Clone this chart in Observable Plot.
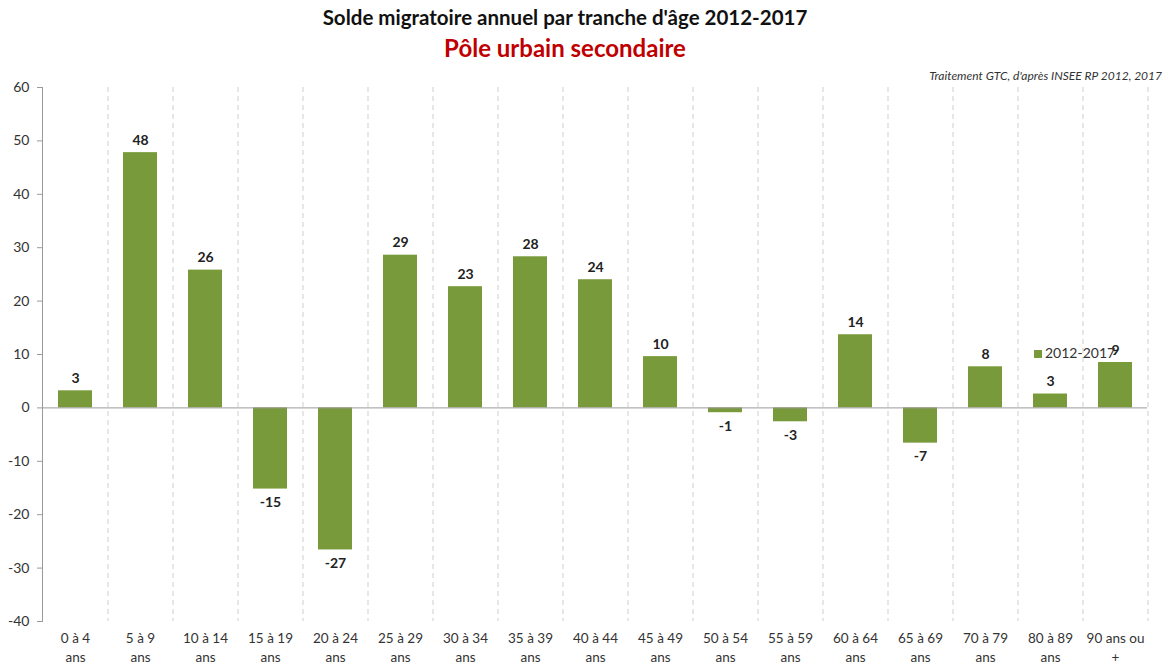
<!DOCTYPE html>
<html><head><meta charset="utf-8">
<script src="https://cdn.jsdelivr.net/npm/d3@7"></script>
<script src="https://cdn.jsdelivr.net/npm/@observablehq/plot@0.6"></script>
<style>
body{margin:0;background:#fff;font-family:Lato,"Open Sans",sans-serif;}
#wrap{position:relative;width:1168px;height:670px;}
#head{position:relative;height:66px;}
#t1{position:absolute;top:5px;left:0;width:1130px;text-align:center;font-weight:bold;font-size:20.5px;color:#111;}
#t2{position:absolute;top:33px;left:0;width:1130px;text-align:center;font-weight:bold;font-size:24px;color:#c00000;}
#cap{position:absolute;top:68px;right:6px;font-style:italic;font-size:12px;color:#333;z-index:2;}
#leg{position:absolute;left:1034px;top:344px;font-size:14px;color:#333;}
#leg span{display:inline-block;width:8px;height:8px;background:#789a3a;margin-right:3px;}
</style></head>
<body><div id="wrap">
<div id="head"><div id="t1"></div><div id="t2"></div><div id="cap"></div></div>
<div id="chart"></div>
<div id="leg"></div>
</div>
<script>
const title = "Solde migratoire annuel par tranche d'âge 2012-2017";
const subtitle = "Pôle urbain secondaire";
const caption = "Traitement GTC, d'après INSEE RP 2012, 2017";
const seriesName = "2012-2017";
const categories = ["0 à 4\nans","5 à 9\nans","10 à 14\nans","15 à 19\nans","20 à 24\nans","25 à 29\nans","30 à 34\nans","35 à 39\nans","40 à 44\nans","45 à 49\nans","50 à 54\nans","55 à 59\nans","60 à 64\nans","65 à 69\nans","70 à 79\nans","80 à 89\nans","90 ans ou\n+"];
const values = [3.2,47.8,25.8,-15.2,-26.6,28.6,22.7,28.3,24.0,9.6,-0.9,-2.6,13.7,-6.6,7.7,2.6,8.5];
const yTicks = [-40,-30,-20,-10,0,10,20,30,40,50,60];

document.getElementById("t1").textContent = title;
document.getElementById("t2").textContent = subtitle;
document.getElementById("cap").textContent = caption;
document.getElementById("leg").innerHTML = "<span></span>" + seriesName;

const data = categories.map((c,i)=>({cat:c, v:values[i]}));
const W = 1168, ML = 42, MR = 21;
const step = (W - ML - MR) / categories.length;
const fmt = v => String(Math.round(v));

const chart = Plot.plot({
  width: W, height: 604,
  marginLeft: ML, marginRight: MR, marginTop: 21, marginBottom: 49,
  style: {fontFamily: "Lato, 'Open Sans', sans-serif", background: "transparent"},
  x: {domain: categories, padding: 0.48, paddingOuter: 0.24, label: null},
  y: {domain: [-40, 60], ticks: yTicks, label: null},
  marks: [
    Plot.ruleX(categories, {x: d=>d, dx: step/2, stroke: "#cfcfcf", strokeDasharray: "5,4", strokeWidth: 1}),
    Plot.barY(data, {x: "cat", y: "v", fill: "#789a3a"}),
    Plot.ruleY([0], {stroke: "#9a9a9a", strokeWidth: 1}),
    Plot.frame({anchor: "left", stroke: "#9a9a9a"}),
    Plot.axisY({ticks: yTicks, tickFormat: fmt, tickSize: 5, tickPadding: 8, fontSize: 14, color: "#333", stroke: "#9a9a9a"}),
    Plot.axisX({tickSize: 0, tickPadding: 8, fontSize: 13.5, color: "#333", lineHeight: 1.4}),
    Plot.text(data, {x: "cat", y: "v", text: d=>fmt(d.v),
      lineAnchor: "bottom", fontWeight: "bold", fontSize: 14, fill: "#222",
      filter: d=>d.v>=0, dy: -8}),
    Plot.text(data, {x: "cat", y: "v", text: d=>fmt(d.v),
      lineAnchor: "top", fontWeight: "bold", fontSize: 14, fill: "#222",
      filter: d=>d.v<0, dy: 8})
  ]
});
document.getElementById("chart").appendChild(chart);
</script>
</body></html>
